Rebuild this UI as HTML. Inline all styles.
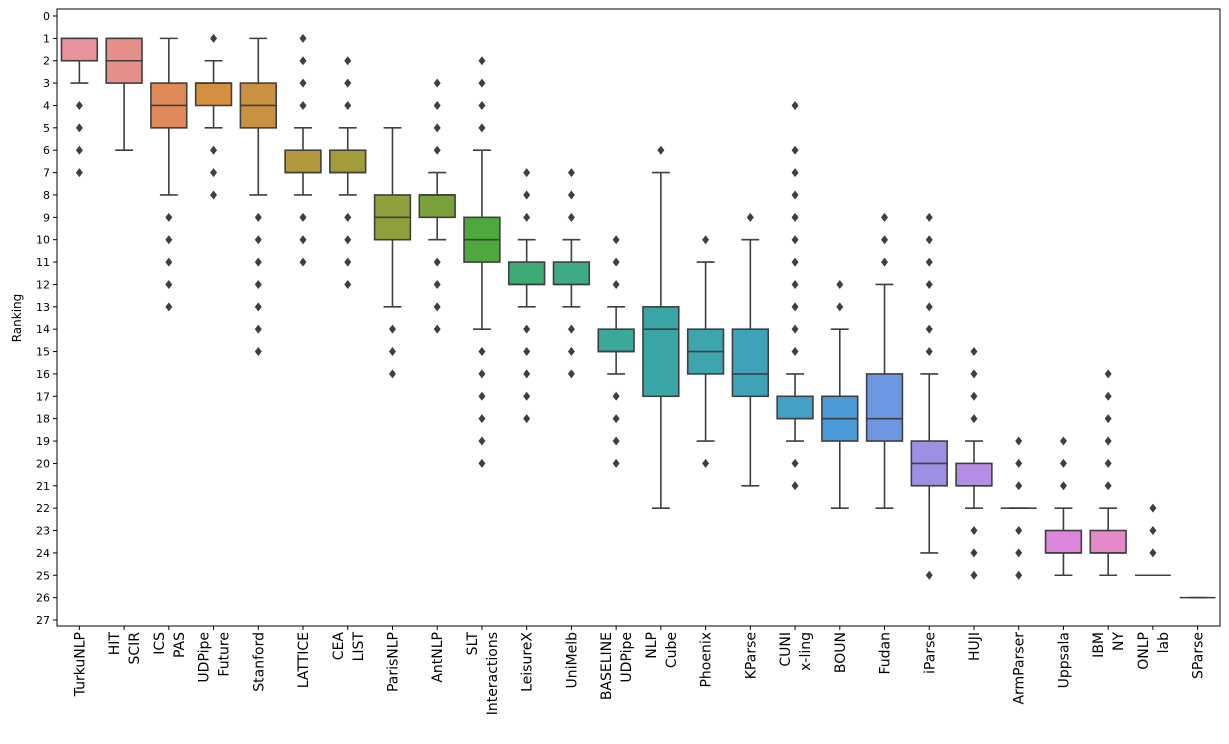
<!DOCTYPE html>
<html><head><meta charset="utf-8"><style>
html,body{margin:0;padding:0;background:#fff;}
svg{display:block;font-family:"DejaVu Sans","Liberation Sans",sans-serif;}
</style></head><body>
<svg id="chart" width="1229" height="744" viewBox="0 0 1229 744" xmlns="http://www.w3.org/2000/svg">
<rect x="0" y="0" width="1229" height="744" fill="#fff"/>
<g id="plot"></g>
<rect x="57" y="9" width="1163" height="617" fill="none" stroke="#000" stroke-width="1"/>
<text transform="translate(21,318) rotate(-90)" text-anchor="middle" font-size="12">Ranking</text>
</svg>
<script>
const categories=["TurkuNLP","HIT\nSCIR","ICS\nPAS","UDPipe\nFuture","Stanford","LATTICE","CEA\nLIST","ParisNLP","AntNLP","SLT\nInteractions","LeisureX","UniMelb","BASELINE\nUDPipe","NLP\nCube","Phoenix","KParse","CUNI\nx-ling","BOUN","Fudan","iParse","HUJI","ArmParser","Uppsala","IBM\nNY","ONLP\nlab","SParse"];
const q1=[1,1,3,3,3,6,6,8,8,9,11,11,14,13,14,14,17,17,16,19,20,22,23,23,25,26];
const medians=[2,2,4,3,4,7,7,9,8,10,12,12,15,14,15,16,18,18,18,20,21,22,24,24,25,26];
const q3=[2,3,5,4,5,7,7,10,9,11,12,12,15,17,16,17,18,19,19,21,21,22,24,24,25,26];
const whiskerLow=[1,1,1,2,1,5,5,5,7,6,10,10,13,7,11,10,16,14,12,16,19,22,22,22,25,26];
const whiskerHigh=[3,6,8,5,8,8,8,13,10,14,13,13,16,22,19,21,19,22,22,24,22,22,25,25,25,26];
const outliers=[[4,5,6,7],[],[9,10,11,12,13],[1,6,7,8],[9,10,11,12,13,14,15],[1,2,3,4,9,10,11],[2,3,4,9,10,11,12],[14,15,16],[3,4,5,6,11,12,13,14],[2,3,4,5,15,16,17,18,19,20],[7,8,9,14,15,16,17,18],[7,8,9,14,15,16],[10,11,12,17,18,19,20],[6],[10,20],[9],[4,6,7,8,9,10,11,12,13,14,15,20,21],[12,13],[9,10,11],[9,10,11,12,13,14,15,25],[15,16,17,18,23,24,25],[19,20,21,23,24,25],[19,20,21],[16,17,18,19,20,21],[22,23,24],[]];
const colors=["#e8929c","#e48f87","#e08a5a","#d4903e","#c99243","#b3993c","#a39c3a","#909f3b","#7aa23a","#4fa83e","#3eab75","#3daa88","#3ca89a","#3ba5a5","#3ea4ae","#40a2b8","#45a0c5","#4b9bd8","#6d97e0","#9b90e4","#b58de4","#c98ae0","#dc85dc","#e589c9","#e88bb5","#e88ca8"];
const yTicks=[0,1,2,3,4,5,6,7,8,9,10,11,12,13,14,15,16,17,18,19,20,21,22,23,24,25,26,27];
const NS="http://www.w3.org/2000/svg";
const X0=57,W=1163,n=categories.length,step=W/n;
const xc=i=>X0+step*(i+0.5);
const y=v=>16+v*(604/27);
const g=document.getElementById('plot');
function mk(t,a,p){const e=document.createElementNS(NS,t);for(const k in a)e.setAttribute(k,a[k]);(p||g).appendChild(e);return e;}
const st="#3f3f3f";
yTicks.forEach(v=>{
  const t=mk('line',{x1:53,x2:57,y1:y(v),y2:y(v),stroke:'#000'});
  
  
  const l=mk('text',{x:50,y:y(v)+4,'text-anchor':'end','font-size':11});
  
  
  l.textContent=v;
});
categories.forEach((c,i)=>{
  const cx=xc(i),bw=step*0.8,grp=mk('g',{});
  
  
  mk('line',{x1:cx,x2:cx,y1:y(whiskerLow[i]),y2:y(q1[i]),stroke:st,'stroke-width':1.6},grp);
  mk('line',{x1:cx,x2:cx,y1:y(q3[i]),y2:y(whiskerHigh[i]),stroke:st,'stroke-width':1.6},grp);
  mk('line',{x1:cx-bw/4,x2:cx+bw/4,y1:y(whiskerLow[i]),y2:y(whiskerLow[i]),stroke:st,'stroke-width':1.6},grp);
  mk('line',{x1:cx-bw/4,x2:cx+bw/4,y1:y(whiskerHigh[i]),y2:y(whiskerHigh[i]),stroke:st,'stroke-width':1.6},grp);
  mk('rect',{x:cx-bw/2,y:y(q1[i]),width:bw,height:Math.max(0,y(q3[i])-y(q1[i])),fill:colors[i],stroke:st,'stroke-width':1.6},grp);
  mk('line',{x1:cx-bw/2,x2:cx+bw/2,y1:y(medians[i]),y2:y(medians[i]),stroke:st,'stroke-width':1.6},grp);
  outliers[i].forEach(o=>{
    const yy=y(o);
    const d=mk('polygon',{points:`${cx},${yy-4.5} ${cx+3.5},${yy} ${cx},${yy+4.5} ${cx-3.5},${yy}`,fill:st},grp);
    
    
  });
  mk('line',{x1:cx,x2:cx,y1:626,y2:630,stroke:'#000'});
  const lines=c.split('\n'),lh=20;
  lines.forEach((ln,k)=>{
    const lx=cx+(k-(lines.length-1)/2)*lh+5;
    const t=mk('text',{transform:`translate(${lx},632) rotate(-90)`,'text-anchor':'end','font-size':14});
    
    
    t.textContent=ln;
  });
});
</script>
</body></html>
